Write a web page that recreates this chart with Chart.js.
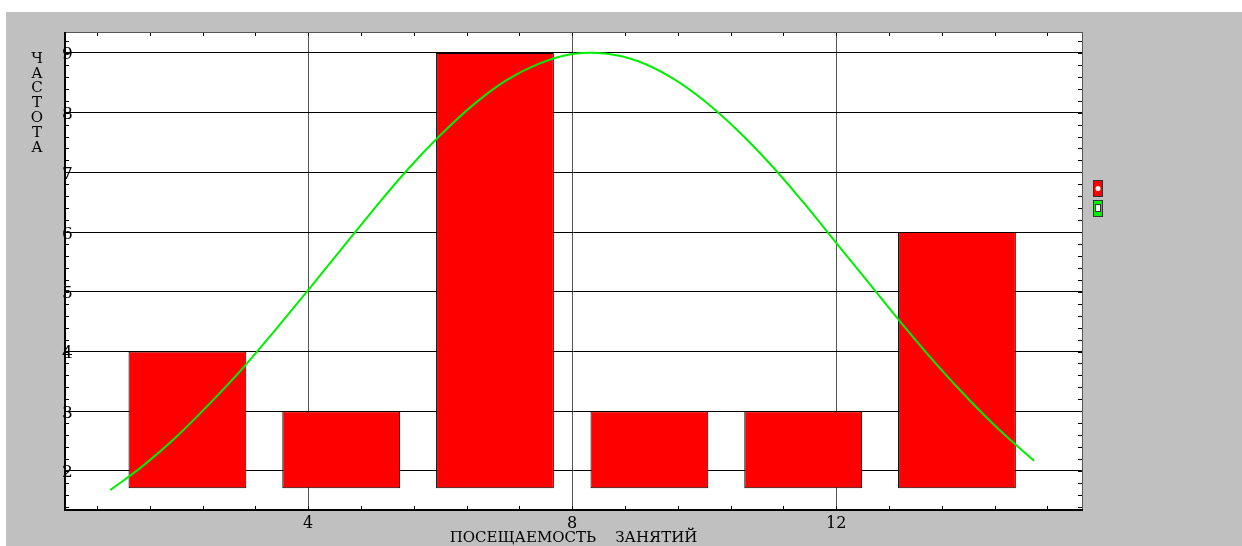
<!DOCTYPE html>
<html>
<head>
<meta charset="utf-8">
<script src="https://cdn.jsdelivr.net/npm/chart.js@4"></script>
<style>
    html, body { margin: 0; padding: 0; background: #fff; overflow: hidden; }
    #wrap { position: absolute; left: 6px; top: 12px; width: 1236px; height: 534px; background: #c0c0c0; }
    canvas { display: block; }
</style>
</head>
<body>
<div id="wrap"><canvas id="histChart" width="1236" height="534"></canvas></div>
<script>
// --- DONNÉES ---
const binCenters = [2.17, 4.5, 6.83, 9.17, 11.5, 13.83];
const frequencies = [4, 3, 9, 3, 3, 6];
const barBase = 1.71;

// Courbe normale
const curveX = [1, 1.5, 2, 2.5, 3, 3.5, 4, 4.5, 5, 5.5, 6, 6.5, 7, 7.5, 8,
                8.5, 9, 9.5, 10, 10.5, 11, 11.5, 12, 12.5, 13, 13.5, 14, 14.5, 15];
const curveY = [1.68, 2.09, 2.57, 3.12, 3.71, 4.36, 5.03, 5.71, 6.39, 7.04, 7.62, 8.13, 8.54, 8.82, 8.98,
                8.99, 8.86, 8.59, 8.20, 7.71, 7.14, 6.50, 5.82, 5.14, 4.46, 3.81, 3.21, 2.66, 2.17];

const xTicks = [4, 8, 12];
const yTicks = [2, 3, 4, 5, 6, 7, 8, 9];
const xRange = [0.3, 15.74];
const yRange = [1.33, 9.35];

const xTitle = 'ПОСЕЩАЕМОСТЬ    ЗАНЯТИЙ';
const yTitle = 'ЧАСТОТА';

const serif = "'DejaVu Serif', 'Liberation Serif', serif";

// --- PLUGIN : fond blanc, cadre, petites graduations, titre vertical, légende ---
const decorPlugin = {
    id: 'decor',
    beforeDraw(chart) {
        const { ctx, chartArea: a } = chart;
        ctx.save();
        ctx.fillStyle = '#fff';
        ctx.fillRect(a.left, a.top, a.width, a.height);
        ctx.restore();
    },
    afterDraw(chart) {
        const { ctx, chartArea: a, scales: { x, y } } = chart;
        ctx.save();
        ctx.strokeStyle = '#000';
        ctx.lineWidth = 1;

        // petites graduations Y (pas 0.2)
        ctx.beginPath();
        for (let k = 7; k <= 46; k++) {
            const py = Math.round(y.getPixelForValue(k * 0.2)) + 0.5;
            ctx.moveTo(a.left, py); ctx.lineTo(a.left + 5, py);
            ctx.moveTo(a.right - 5, py); ctx.lineTo(a.right, py);
        }
        // petites graduations X (pas 0.8)
        for (let k = 1; k <= 19; k++) {
            const px = Math.round(x.getPixelForValue(k * 0.8)) + 0.5;
            ctx.moveTo(px, a.bottom); ctx.lineTo(px, a.bottom - 5);
            ctx.moveTo(px, a.top); ctx.lineTo(px, a.top + 4);
        }
        ctx.stroke();

        // cadre
        ctx.strokeStyle = '#555';
        ctx.strokeRect(a.left + 0.5, a.top + 0.5, a.width - 1, a.height - 1);
        ctx.strokeStyle = '#000';
        ctx.lineWidth = 2;
        ctx.beginPath();
        ctx.moveTo(a.left + 1, a.top);
        ctx.lineTo(a.left + 1, a.bottom - 1);
        ctx.lineTo(a.right, a.bottom - 1);
        ctx.stroke();

        // titre Y : lettres empilées
        ctx.fillStyle = '#000';
        ctx.font = '15px ' + serif;
        ctx.textAlign = 'center';
        ctx.textBaseline = 'middle';
        [...yTitle].forEach((ch, i) => ctx.fillText(ch, 31, 47 + i * 14.8));

        // légende
        const lx = a.right + 10;
        ctx.lineWidth = 1;
        ctx.strokeStyle = '#333';
        ctx.fillStyle = '#ff0000';
        ctx.fillRect(lx, a.top + 148, 10, 17);
        ctx.strokeRect(lx + 0.5, a.top + 148.5, 9, 16);
        ctx.fillStyle = '#fff';
        ctx.beginPath();
        ctx.arc(lx + 5, a.top + 156.5, 2.5, 0, Math.PI * 2);
        ctx.fill();

        ctx.fillStyle = '#00ee00';
        ctx.fillRect(lx, a.top + 168, 10, 17);
        ctx.strokeRect(lx + 0.5, a.top + 168.5, 9, 16);
        ctx.fillStyle = '#fff';
        ctx.fillRect(lx + 3, a.top + 173, 4, 6);
        ctx.strokeRect(lx + 2.5, a.top + 172.5, 5, 7);
        ctx.restore();
    }
};

new Chart(document.getElementById('histChart'), {
    type: 'bar',
    data: {
        datasets: [
            {
                type: 'line',
                order: 0,
                data: curveX.map((v, i) => ({ x: v, y: curveY[i] })),
                borderColor: '#00ee00',
                borderWidth: 2,
                pointRadius: 0,
                tension: 0.4,
                fill: false
            },
            {
                type: 'bar',
                order: 1,
                data: binCenters.map((v, i) => ({ x: v, y: [barBase, frequencies[i]] })),
                backgroundColor: '#ff0000',
                borderColor: '#000',
                borderWidth: 1,
                borderSkipped: false,
                barPercentage: 0.766,
                categoryPercentage: 1
            }
        ]
    },
    options: {
        responsive: false,
        animation: false,
        devicePixelRatio: 1,
        layout: { padding: { left: 58, right: 159, top: 20, bottom: 0 } },
        plugins: { legend: { display: false }, tooltip: { enabled: false } },
        scales: {
            x: {
                type: 'linear',
                min: xRange[0], max: xRange[1],
                offset: false,
                afterBuildTicks: s => { s.ticks = xTicks.map(v => ({ value: v })); },
                afterFit: s => { s.height = 35; },
                grid: { color: '#555', drawTicks: false, offset: false },
                border: { display: false },
                ticks: { color: '#000', font: { family: serif, size: 16 }, padding: 3, maxRotation: 0, autoSkip: false },
                title: { display: true, text: xTitle, color: '#000', font: { family: serif, size: 15, lineHeight: 1 }, padding: 0 }
            },
            y: {
                min: yRange[0], max: yRange[1],
                afterBuildTicks: s => { s.ticks = yTicks.map(v => ({ value: v })); },
                afterFit: s => { s.width = 0; },
                grid: { color: '#000', drawTicks: false },
                border: { display: false },
                ticks: { mirror: true, padding: -2, labelOffset: 2, color: '#000', font: { family: serif, size: 17 } }
            }
        }
    },
    plugins: [decorPlugin]
});
</script>
</body>
</html>
